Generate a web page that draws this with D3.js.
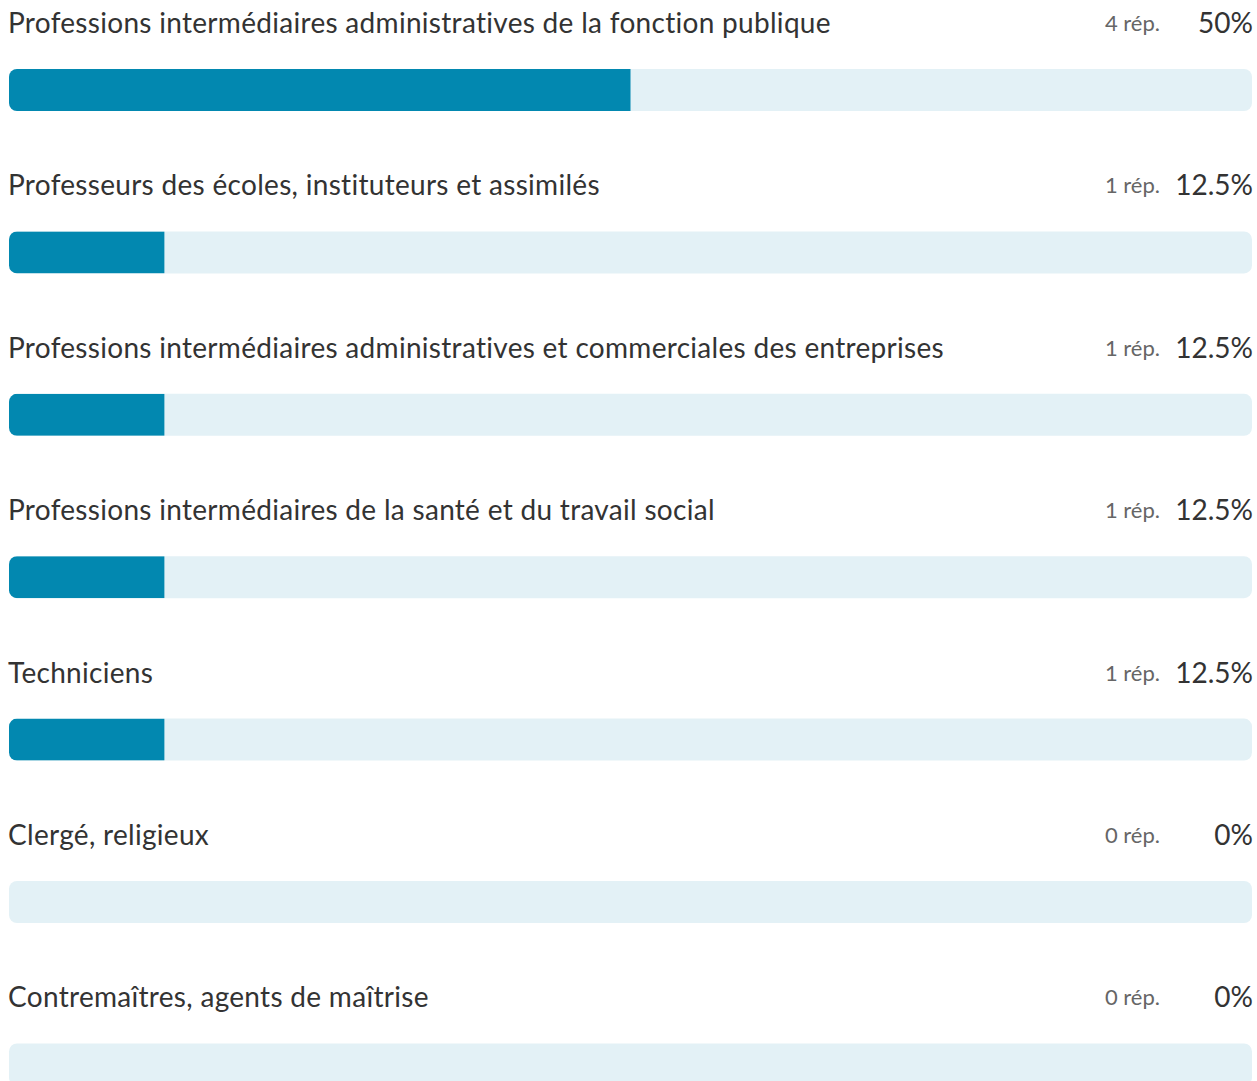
<!DOCTYPE html>
<html><head><meta charset="utf-8">
<script src="https://cdn.jsdelivr.net/npm/d3@7"></script>
<style>html,body{margin:0;padding:0;background:#fff;overflow:hidden} text{font-variant-ligatures:none}</style>
</head><body><svg id="c"></svg>
<script>
const categories = [
  "Professions intermédiaires administratives de la fonction publique",
  "Professeurs des écoles, instituteurs et assimilés",
  "Professions intermédiaires administratives et commerciales des entreprises",
  "Professions intermédiaires de la santé et du travail social",
  "Techniciens",
  "Clergé, religieux",
  "Contremaîtres, agents de maîtrise"
];
const responses = [4, 1, 1, 1, 1, 0, 0];
const percents = [50, 12.5, 12.5, 12.5, 12.5, 0, 0];
const responseLabels = ["4 rép.", "1 rép.", "1 rép.", "1 rép.", "1 rép.", "0 rép.", "0 rép."];
const percentLabels = ["50%", "12.5%", "12.5%", "12.5%", "12.5%", "0%", "0%"];

const W = 1257, H = 1081;
const svg = d3.select("#c").attr("width", W).attr("height", H);
const left = 9, right = 1252, barH = 42, rowH = 162.4, barTop0 = 69;
const x = d3.scaleLinear().domain([0, 100]).range([left, right]);
const y = d3.scaleLinear().domain([0, 1]).range([barTop0, barTop0 + rowH]);
const font = "Lato, 'Open Sans', sans-serif";

const g = svg.append("g");
const rows = g.selectAll("g.row").data(categories).join("g").attr("class", "row");

rows.append("clipPath").attr("id", (d, i) => "clip" + i)
  .append("rect")
  .attr("x", x(0)).attr("y", (d, i) => y(i))
  .attr("width", x(100) - x(0)).attr("height", barH)
  .attr("rx", 8).attr("ry", 8);

rows.append("rect")
  .attr("x", x(0)).attr("y", (d, i) => y(i))
  .attr("width", x(100) - x(0)).attr("height", barH)
  .attr("rx", 8).attr("ry", 8)
  .attr("fill", "#e3f1f6");

rows.append("rect")
  .attr("clip-path", (d, i) => `url(#clip${i})`)
  .attr("x", x(0)).attr("y", (d, i) => y(i))
  .attr("width", (d, i) => x(percents[i]) - x(0)).attr("height", barH)
  .attr("fill", "#0288b0");

rows.append("text")
  .attr("x", 8).attr("y", (d, i) => y(i) - 36)
  .attr("font-family", font).attr("font-size", 28)
  .attr("letter-spacing", 0.3)
  .attr("fill", "#333").text(d => d);

rows.append("text")
  .attr("x", 1160).attr("y", (d, i) => y(i) - 38)
  .attr("text-anchor", "end")
  .attr("font-family", font).attr("font-size", 22)
  .attr("fill", "#666").text((d, i) => responseLabels[i]);

rows.append("text")
  .attr("x", 1253).attr("y", (d, i) => y(i) - 36)
  .attr("text-anchor", "end")
  .attr("font-family", font).attr("font-size", 28)
  .attr("fill", "#333").text((d, i) => percentLabels[i]);
</script></body></html>
